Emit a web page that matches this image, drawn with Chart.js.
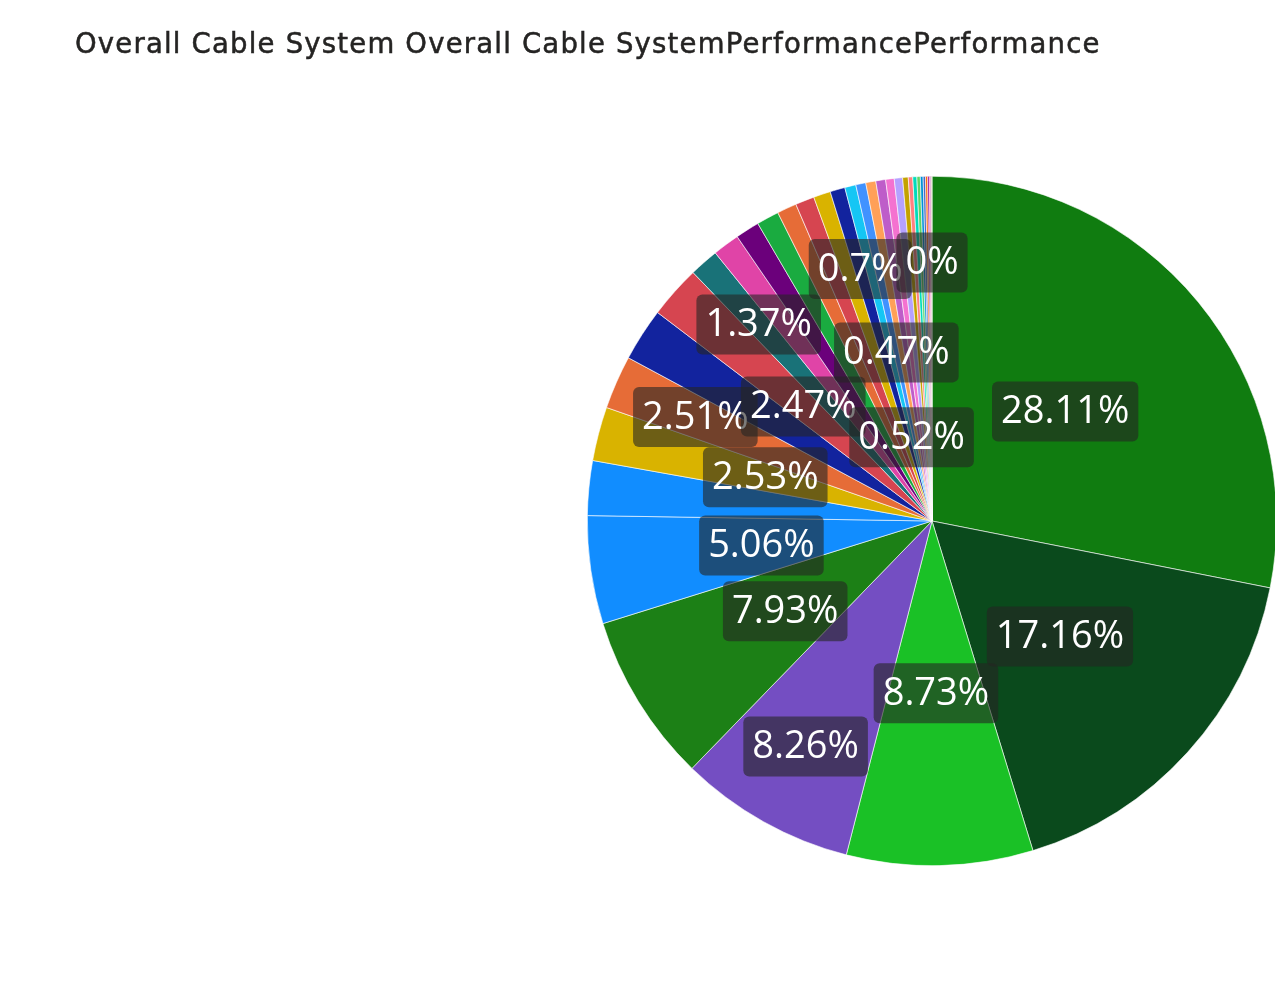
<!DOCTYPE html>
<html lang="en">
<head>
  <meta charset="UTF-8">
  <title>Overall Cable System Performance</title>
  <script src="https://cdn.jsdelivr.net/npm/chart.js"></script>
  <style>
    html, body {
      margin: 0;
      padding: 0;
      background: #fff;
      overflow: hidden;
    }
    #wrap {
      position: relative;
      width: 1280px;
      height: 987px;
    }
    #title {
      position: absolute;
      left: 75px;
      top: 27px;
      font-family: "DejaVu Sans", sans-serif;
      font-size: 27.5px;
      letter-spacing: 1.2px;
      -webkit-text-stroke: 0.5px #252423;
      color: #252423;
      white-space: nowrap;
      z-index: 2;
    }
    canvas {
      position: absolute;
      left: 0;
      top: 0;
    }
  </style>
</head>
<body>
  <div id="wrap">
    <div id="title">Overall Cable System Overall Cable SystemPerformancePerformance</div>
    <canvas id="pieChart" width="1280" height="987"></canvas>
  </div>

  <script>
    // share of each cable system, in %, sorted as in the visual
    const shares = [
      28.11, 17.16, 8.73, 8.26, 7.93, 5.06, 2.56, 2.53, 2.51, 2.49,
      2.47, 1.37, 1.26, 1.13, 1.05, 0.92, 0.89, 0.80, 0.70, 0.52,
      0.47, 0.47, 0.46, 0.40, 0.39, 0.26, 0.21, 0.19, 0.16, 0.13,
      0.11, 0.10, 0.08, 0.06, 0.04, 0.02, 0
    ];
    const sliceColors = [
      '#107C10', '#0A4A1C', '#1AC126', '#744EC2', '#1C8016', '#118DFF', '#118DFF', '#D9B300', '#E66C37', '#12239E',
      '#D64550', '#197278', '#E044A7', '#6B007B', '#1AAB40', '#E66C37', '#D64550', '#D9B300', '#12239E', '#15C6F4',
      '#4092FF', '#FFA058', '#BE5DC9', '#F472D0', '#B5A1FF', '#C4A200', '#FF8080', '#00DBBC', '#5BD667', '#0091D5',
      '#4668C5', '#FF6300', '#99008A', '#EC008C', '#533285', '#99700A', '#FF4141'
    ];
    // slices whose data label survives the overlap check, and the ring it sits on (fraction of radius)
    const labelled = [0, 1, 2, 3, 4, 5, 7, 8, 10, 11, 18, 19, 20, 36];
    const labelRing = [0.5, 0.5, 0.5, 0.75, 0.5, 0.5, 0.5, 0.75, 0.5, 0.76, 0.76, 0.25, 0.5, 0.75];

    function fmtPct(v) {
      return parseFloat(v.toFixed(2)) + '%';
    }

    const dataLabels = {
      id: 'dataLabels',
      afterDatasetsDraw(chart) {
        const ctx = chart.ctx;
        const meta = chart.getDatasetMeta(0);
        ctx.save();
        ctx.font = '38px "Open Sans", sans-serif';
        ctx.textAlign = 'center';
        ctx.textBaseline = 'middle';
        labelled.forEach((idx, k) => {
          const arc = meta.data[idx];
          const p = arc.getProps(['x', 'y', 'startAngle', 'endAngle', 'outerRadius'], true);
          const mid = (p.startAngle + p.endAngle) / 2;
          const r = p.outerRadius * labelRing[k];
          const cx = p.x + Math.cos(mid) * r;
          const cy = p.y + Math.sin(mid) * r;
          const txt = fmtPct(shares[idx]);
          const w = ctx.measureText(txt).width + 18;
          const h = 60;
          ctx.fillStyle = 'rgba(37,36,35,0.6)';
          ctx.beginPath();
          ctx.roundRect(cx - w / 2, cy - h / 2, w, h, 6);
          ctx.fill();
          ctx.fillStyle = '#fff';
          ctx.fillText(txt, cx, cy + 1);
        });
        ctx.restore();
      }
    };

    new Chart(document.getElementById('pieChart'), {
      type: 'pie',
      data: {
        labels: shares.map((_, i) => 'System ' + (i + 1)),
        datasets: [{
          data: shares,
          backgroundColor: sliceColors,
          borderColor: '#fff',
          borderWidth: 0.6
        }]
      },
      options: {
        responsive: false,
        animation: false,
        layout: { padding: { left: 587, right: 3, top: 176, bottom: 121 } },
        plugins: {
          legend: { display: false },
          tooltip: { enabled: false }
        }
      },
      plugins: [dataLabels]
    });
  </script>
</body>
</html>
